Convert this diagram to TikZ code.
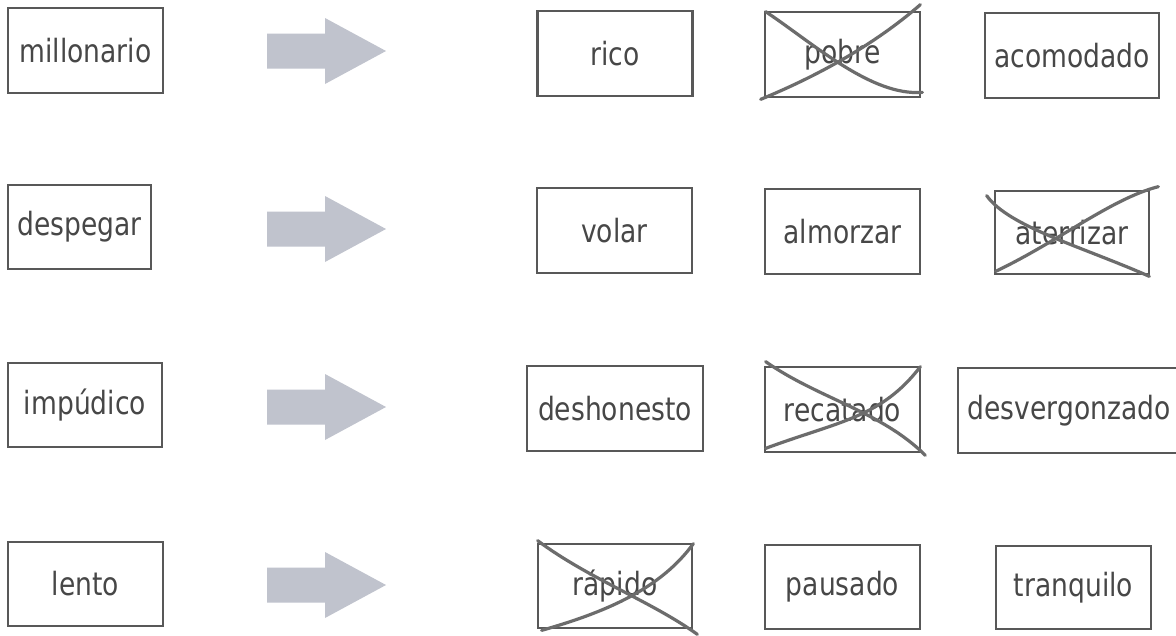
\documentclass[tikz,border=0pt]{standalone}
\usepackage{fontspec}
\setmainfont[FakeStretch=0.83]{DejaVu Sans}
\usetikzlibrary{calc}
\definecolor{boxline}{HTML}{585858}
\definecolor{txt}{HTML}{474747}
\definecolor{strike}{HTML}{6C6C6C}
\definecolor{arrowfill}{HTML}{C0C3CD}
\newcommand{\grayarrow}[1]{%
  \fill[arrowfill] (267,#1-17.5) -- (325,#1-17.5) -- (325,#1-33) -- (386,#1)
    -- (325,#1+33) -- (325,#1+17.5) -- (267,#1+17.5) -- cycle;}
\begin{document}
\begin{tikzpicture}[x=1pt,y=-1pt,
  wbox/.style={draw=boxline, line width=2.7pt, fill=white, text=txt,
    font=\fontsize{32}{36}\selectfont, inner sep=0pt,
    minimum width=155, minimum height=85},
  strikeline/.style={draw=strike, line width=3.2pt, line cap=round}]
\useasboundingbox (0,0) rectangle (1176,635);
\fill[white] (0,0) rectangle (1176,635);
% row 1
\node[wbox] (millonario) at (85.5,50.5) {millonario};
\grayarrow{51}
\node[wbox] (rico) at (615,53.5) {rico};
\node[wbox] (pobre) at (842.5,54.5) {pobre};
\node[wbox, minimum width=174] (acomodado) at (1072,55.5) {acomodado};
% row 2
\node[wbox, minimum width=143, minimum height=84] (despegar) at (79.5,227) {despegar};
\grayarrow{229}
\node[wbox] (volar) at (614.5,230.5) {volar};
\node[wbox] (almorzar) at (842.5,231.5) {almorzar};
\node[wbox, minimum width=154, minimum height=83] (aterrizar) at (1072,232.5) {aterrizar};
% row 3
\node[wbox, minimum width=154, minimum height=84] (impudico) at (85,405) {impúdico};
\grayarrow{407}
\node[wbox, minimum width=176] (deshonesto) at (615,408.5) {deshonesto};
\node[wbox] (recatado) at (842.5,409.5) {recatado};
\node[wbox, minimum width=222] (desvergonzado) at (1069,410.5) {desvergonzado};
% row 4
\node[wbox, minimum height=84] (lento) at (85.5,584) {lento};
\grayarrow{585}
\node[wbox, minimum width=154, minimum height=84] (rapido) at (615,586) {rápido};
\node[wbox, minimum height=84] (pausado) at (842.5,587) {pausado};
\node[wbox, minimum height=83] (tranquilo) at (1073.5,587.5) {tranquilo};
% strike-outs
\draw[strikeline] ($(pobre.north west)+(2,1)$) .. controls ($(pobre.north west)+(50,33)$) and ($(pobre.south east)+(-50,-2)$) .. ($(pobre.south east)+(1,-6)$);
\draw[strikeline] ($(pobre.south west)+(-3,1)$) .. controls ($(pobre.south west)+(65,-27)$) and ($(pobre.north east)+(-40,28)$) .. ($(pobre.north east)+(-1,-6)$);
\draw[strikeline] ($(aterrizar.north west)+(-7,6)$) .. controls ($(aterrizar.north west)+(15,37)$) and ($(aterrizar.south east)+(-69,-29)$) .. ($(aterrizar.south east)+(-1,1)$);
\draw[strikeline] ($(aterrizar.south west)+(2,-4)$) .. controls ($(aterrizar.south west)+(65,-34)$) and ($(aterrizar.north east)+(-39,9)$) .. ($(aterrizar.north east)+(8,-3)$);
\draw[strikeline] ($(recatado.north west)+(2,-4)$) .. controls ($(recatado.north west)+(55,33)$) and ($(recatado.south east)+(-40,-42)$) .. ($(recatado.south east)+(4,2)$);
\draw[strikeline] ($(recatado.south west)+(2,-5)$) .. controls ($(recatado.south west)+(75,-32)$) and ($(recatado.north east)+(-40,52)$) .. ($(recatado.north east)+(-1,1)$);
\draw[strikeline] ($(rapido.north west)+(1,-2)$) .. controls ($(rapido.north west)+(52,36)$) and ($(rapido.south east)+(-42,-28)$) .. ($(rapido.south east)+(4,5)$);
\draw[strikeline] ($(rapido.south west)+(5,1)$) .. controls ($(rapido.south west)+(72,-18)$) and ($(rapido.north east)+(-32,45)$) .. ($(rapido.north east)+(0,1)$);
\end{tikzpicture}
\end{document}
